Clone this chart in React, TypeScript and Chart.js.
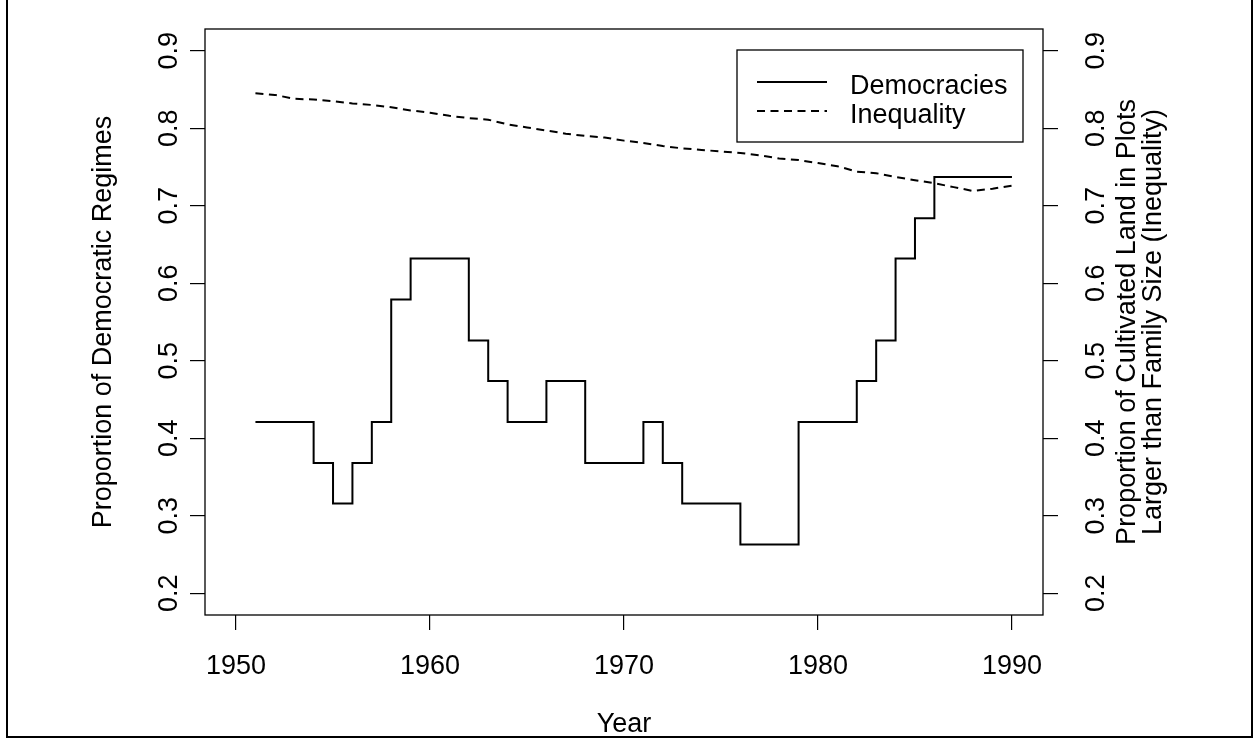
import React, { useEffect, useRef } from "react";
import { Chart, registerables } from "chart.js";

Chart.register(...registerables);

const years = [
  1951, 1952, 1953, 1954, 1955, 1956, 1957, 1958, 1959, 1960,
  1961, 1962, 1963, 1964, 1965, 1966, 1967, 1968, 1969, 1970,
  1971, 1972, 1973, 1974, 1975, 1976, 1977, 1978, 1979, 1980,
  1981, 1982, 1983, 1984, 1985, 1986, 1987, 1988, 1989, 1990,
];

const democracies = [
  0.421, 0.421, 0.421, 0.368, 0.316, 0.368, 0.421, 0.579, 0.632, 0.632,
  0.632, 0.526, 0.474, 0.421, 0.421, 0.474, 0.474, 0.368, 0.368, 0.368,
  0.421, 0.368, 0.316, 0.316, 0.316, 0.263, 0.263, 0.263, 0.421, 0.421,
  0.421, 0.474, 0.526, 0.632, 0.684, 0.737, 0.737, 0.737, 0.737, 0.737,
];

const inequality = [
  0.845, 0.843, 0.838, 0.837, 0.835, 0.832, 0.83, 0.827, 0.823, 0.82,
  0.816, 0.813, 0.811, 0.805, 0.801, 0.797, 0.793, 0.79, 0.788, 0.784,
  0.781, 0.777, 0.774, 0.772, 0.77, 0.768, 0.765, 0.761, 0.759, 0.755,
  0.751, 0.744, 0.742, 0.737, 0.733, 0.729, 0.724, 0.719, 0.722, 0.726,
];

const xTicks = [1950, 1960, 1970, 1980, 1990];
const xTickLabels = ["1950", "1960", "1970", "1980", "1990"];
const yTicks = [0.2, 0.3, 0.4, 0.5, 0.6, 0.7, 0.8, 0.9];
const yTickLabels = ["0.2", "0.3", "0.4", "0.5", "0.6", "0.7", "0.8", "0.9"];

const seriesLabels = ["Democracies", "Inequality"];
const xTitle = "Year";
const yTitle = "Proportion of Democratic Regimes";
const y2Title = ["Proportion of Cultivated Land in Plots", "Larger than Family Size (Inequality)"];

const FONT = '27px "Liberation Sans", Arial, sans-serif';

const rPlugin = {
  id: "rStyle",
  afterDraw(chart: any) {
    const { ctx, chartArea } = chart;
    const xs = chart.scales.x;
    const ys = chart.scales.y;
    const y2s = chart.scales.y2;
    ctx.save();
    ctx.strokeStyle = "#000";
    ctx.fillStyle = "#000";

    // plot box
    ctx.lineWidth = 1.3;
    ctx.setLineDash([]);
    ctx.strokeRect(chartArea.left, chartArea.top, chartArea.right - chartArea.left, chartArea.bottom - chartArea.top);

    // outer frame
    ctx.lineWidth = 2;
    ctx.beginPath();
    ctx.moveTo(7, -5);
    ctx.lineTo(7, 737);
    ctx.lineTo(1252, 737);
    ctx.lineTo(1252, -5);
    ctx.stroke();

    ctx.font = FONT;
    // x tick labels
    ctx.textAlign = "center";
    ctx.textBaseline = "alphabetic";
    xTicks.forEach((v, i) => {
      ctx.fillText(xTickLabels[i], xs.getPixelForValue(v), 674);
    });
    // x title
    ctx.fillText(xTitle, (chartArea.left + chartArea.right) / 2, 732);

    const rot = (text: string, x: number, y: number) => {
      ctx.save();
      ctx.translate(x, y);
      ctx.rotate(-Math.PI / 2);
      ctx.textAlign = "center";
      ctx.textBaseline = "alphabetic";
      ctx.fillText(text, 0, 0);
      ctx.restore();
    };
    yTicks.forEach((v, i) => {
      rot(yTickLabels[i], 177, ys.getPixelForValue(v));
      rot(yTickLabels[i], 1104, y2s.getPixelForValue(v));
    });
    const cy = (chartArea.top + chartArea.bottom) / 2;
    rot(yTitle, 111, cy);
    rot(y2Title[0], 1135, cy);
    rot(y2Title[1], 1161, cy);

    // legend
    ctx.lineWidth = 1.3;
    ctx.strokeRect(737, 50, 1023 - 737, 142 - 50);
    const ds = chart.data.datasets;
    const rows = [82, 111];
    ds.forEach((d: any, i: number) => {
      ctx.lineWidth = 2;
      ctx.setLineDash(d.borderDash || []);
      ctx.beginPath();
      ctx.moveTo(757, rows[i]);
      ctx.lineTo(827, rows[i]);
      ctx.stroke();
      ctx.setLineDash([]);
      ctx.textAlign = "left";
      ctx.fillText(d.label, 850, rows[i] + 11.5);
    });
    ctx.restore();
  },
};

export default function App() {
  const ref = useRef<HTMLCanvasElement>(null);
  useEffect(() => {
    const canvas = ref.current;
    if (!canvas) return;
    const gridOpts = {
      display: true,
      drawOnChartArea: false,
      drawTicks: true,
      tickLength: 15,
      color: "#000",
      lineWidth: 1.2,
    };
    const chart = new Chart(canvas, {
      type: "line",
      data: {
        datasets: [
          {
            label: seriesLabels[0],
            data: years.map((yr, i) => ({ x: yr, y: democracies[i] })),
            borderColor: "#000",
            borderWidth: 2,
            pointRadius: 0,
            stepped: "before",
            fill: false,
            yAxisID: "y",
          },
          {
            label: seriesLabels[1],
            data: years.map((yr, i) => ({ x: yr, y: inequality[i] })),
            borderColor: "#000",
            borderWidth: 2,
            borderDash: [8, 5.5],
            pointRadius: 0,
            tension: 0,
            fill: false,
            yAxisID: "y2",
          },
        ],
      },
      options: {
        responsive: false,
        maintainAspectRatio: false,
        devicePixelRatio: 1,
        animation: false,
        layout: { padding: { top: 29, left: 0, right: 0, bottom: 0 } },
        plugins: { legend: { display: false }, tooltip: { enabled: false }, title: { display: false } },
        scales: {
          x: {
            type: "linear",
            position: "bottom",
            min: 1948.4,
            max: 1991.6,
            afterBuildTicks: (s: any) => {
              s.ticks = xTicks.map((v) => ({ value: v }));
            },
            afterFit: (s: any) => {
              s.height = 125;
            },
            ticks: { display: false },
            grid: gridOpts,
            border: { display: false },
          },
          y: {
            type: "linear",
            position: "left",
            min: 0.172,
            max: 0.928,
            afterBuildTicks: (s: any) => {
              s.ticks = yTicks.map((v) => ({ value: v }));
            },
            afterFit: (s: any) => {
              s.width = 205;
            },
            ticks: { display: false },
            grid: gridOpts,
            border: { display: false },
          },
          y2: {
            type: "linear",
            position: "right",
            min: 0.172,
            max: 0.928,
            afterBuildTicks: (s: any) => {
              s.ticks = yTicks.map((v) => ({ value: v }));
            },
            afterFit: (s: any) => {
              s.width = 216;
            },
            ticks: { display: false },
            grid: gridOpts,
            border: { display: false },
          },
        },
      } as any,
      plugins: [rPlugin],
    });
    return () => chart.destroy();
  }, []);
  return (
    <canvas
      ref={ref}
      width={1259}
      height={740}
      style={{ position: "fixed", left: 0, top: 0, width: 1259, height: 740, background: "#fff" }}
    />
  );
}
